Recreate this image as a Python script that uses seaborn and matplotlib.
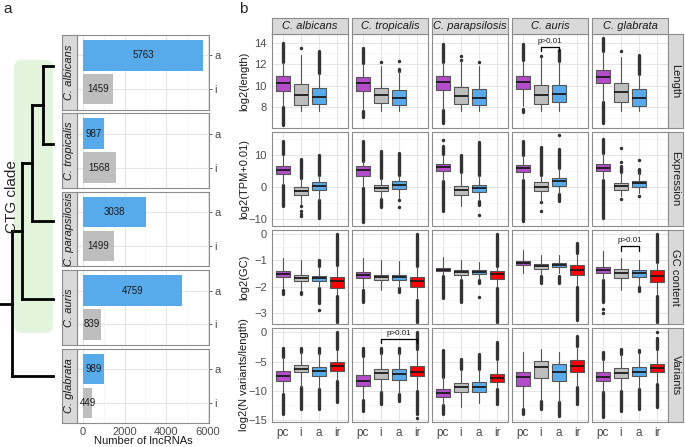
import numpy as np
import pandas as pd
import matplotlib
matplotlib.use("Agg")
import matplotlib.pyplot as plt
from matplotlib.patches import FancyBboxPatch
import seaborn as sns

W, H = 685, 447

# ---- data -------------------------------------------------------------
species = ["C. albicans", "C. tropicalis", "C. parapsilosis", "C. auris", "C. glabrata"]
n_antisense = [5763, 987, 3038, 4759, 989]      # "a"
n_intergenic = [1459, 1568, 1499, 839, 449]     # "i"

# tree: ladder tree over the species order, depth at which leaf k+1 joins
node_depth = [4.1, 3.05, 2.05, 1.1]
leaf_depth = 5.0

groups = ["pc", "i", "a", "ir"]
metric_strips = ["Length", "Expression", "GC content", "Variants"]
metric_ylabels = ["log2(length)", "log2(TPM+0.01)", "log2(GC)", "log2(N variants/length)"]
metric_ylims = [(6.1, 14.8), (-12.2, 17.2), (-3.44, 0.17), (-15.35, 0.74)]
metric_yticks = [[8, 10, 12, 14], [-10, 0, 10], [-3, -2, -1, 0], [-15, -10, -5, 0]]

# box stats per species -> per group: (whislo, q1, median, q3, whishi)
length_box = [
    [(8.1, 9.55, 10.3, 10.9, 12.1), (7.64, 8.23, 9.16, 10.2, 12.9), (7.64, 8.31, 8.98, 9.84, 11.1)],
    [(7.85, 9.55, 10.22, 10.86, 12.0), (7.64, 8.43, 9.13, 9.83, 11.8), (7.64, 8.21, 8.91, 9.58, 11.35)],
    [(7.9, 9.64, 10.34, 10.89, 12.1), (7.64, 8.30, 9.1, 9.92, 12.3), (7.64, 8.21, 8.88, 9.74, 11.8)],
    [(8.15, 9.67, 10.34, 10.92, 12.3), (7.64, 8.36, 9.16, 10.04, 12.6), (7.64, 8.55, 9.25, 10.07, 12.2)],
    [(8.6, 10.28, 10.86, 11.44, 13.1), (7.64, 8.55, 9.43, 10.28, 12.7), (7.64, 8.18, 8.85, 9.74, 11.0)],
]
# outliers: single value = one point, (lo, hi) = dense run of points
length_fliers = [
    [[(12.2, 13.95), (6.35, 8.0)], [13.5], [(11.2, 13.25)]],
    [[(12.1, 13.5), (7.1, 7.7)], [12.2], [12.26, (11.4, 11.6)]],
    [[(12.2, 13.9), (6.6, 7.8)], [12.8, 12.4], [12.2]],
    [[(12.4, 13.9), (7.6, 7.85)], [12.8], [(12.3, 13.3)]],
    [[(13.2, 14.4), (6.6, 8.5)], [13.2], [(11.1, 12.87)]],
]
expr_box = [
    [(0.9, 4.17, 5.42, 6.67, 10.0), (-5.3, -2.6, -1.35, -0.1, 2.5), (-4.0, -0.94, 0.2, 1.46, 3.4)],
    [(0.0, 3.54, 5.2, 6.46, 8.0), (-3.7, -1.25, -0.2, 0.73, 2.5), (-3.5, -0.52, 0.63, 1.77, 3.5)],
    [(2.0, 5.0, 6.15, 7.19, 10.0), (-5.8, -2.4, -0.94, 0.42, 4.5), (-4.2, -1.56, -0.42, 0.73, 3.5)],
    [(2.4, 4.8, 5.94, 6.98, 9.8), (-4.3, -1.15, 0.0, 1.46, 3.5), (-2.0, 0.42, 1.77, 2.7, 5.6)],
    [(2.4, 4.9, 6.04, 7.19, 10.3), (-2.8, -0.83, 0.2, 1.25, 4.4), (-1.8, 0.1, 1.15, 1.98, 4.3)],
]
expr_fliers = [
    [[(10.3, 14.5), (-6.0, 0.7)], [(2.7, 8.8), -5.9, -7.4, -8.3, -9.2], [(3.6, 10.0), (-9.8, -4.2)]],
    [[(8.2, 14.5), (-11.0, -0.3)], [(2.7, 11.35), (-6.35, -3.9)], [(3.7, 10.6), -4.0, -6.35]],
    [[(10.3, 12.9), 14.8, (-7.4, 1.8)], [(4.7, 10.0)], [(3.7, 14.0), (-5.5, -4.3), -8.75]],
    [[(9.9, 14.5), (-10.5, 2.3)], [(3.7, 12.4), -4.6, -7.6], [(5.8, 12.0), 16.2, (-4.3, -2.2)]],
    [[(10.5, 15.0), (-9.8, 2.3)], [12.1, 7.9, (4.6, 6.5), -3.75], [8.4, (4.5, 5.5), -2.7]],
]
gc_box = [
    [(-2.06, -1.65, -1.53, -1.42, -0.91), (-2.13, -1.77, -1.67, -1.56, -0.97),
     (-2.0, -1.79, -1.69, -1.59, -1.26), (-2.3, -2.05, -1.79, -1.64, -1.2)],
    [(-2.06, -1.68, -1.54, -1.44, -0.91), (-2.13, -1.74, -1.64, -1.55, -0.97),
     (-2.0, -1.76, -1.65, -1.55, -1.03), (-2.45, -2.0, -1.78, -1.64, -1.25)],
    [(-1.55, -1.41, -1.35, -1.28, -0.87), (-1.7, -1.54, -1.45, -1.37, -1.0),
     (-1.7, -1.53, -1.44, -1.37, -1.05), (-2.0, -1.72, -1.53, -1.41, -1.25)],
    [(-1.49, -1.18, -1.10, -1.03, -0.59), (-1.55, -1.32, -1.23, -1.14, -0.78),
     (-1.5, -1.27, -1.19, -1.10, -0.78), (-1.95, -1.55, -1.36, -1.19, -0.75)],
    [(-1.7, -1.47, -1.36, -1.26, -0.65), (-2.13, -1.68, -1.5, -1.32, -0.91),
     (-1.98, -1.64, -1.49, -1.36, -0.97), (-2.3, -1.81, -1.58, -1.37, -1.1)],
]
gc_fliers = [
    [[(-2.28, -2.13)], [(-2.28, -2.2)], [(-1.23, -0.97), (-2.64, -2.06), -2.9], [(-1.17, 0.0), (-3.35, -2.35)]],
    [[(-2.58, -2.13)], [], [(-2.2, -2.06)], [(-1.23, 0.0), (-3.35, -2.5)]],
    [[(-2.45, -1.6)], [(-2.58, -1.74)], [(-1.87, -1.74), -2.41], [(-1.23, 0.0), (-3.35, -2.05)]],
    [[], [(-1.87, -1.6)], [(-1.87, -1.6)], [(-0.72, -0.33), (-3.28, -2.0)]],
    [[(-2.6, -1.74), -2.85, -3.0], [], [(-2.19, -2.03)], [(-1.04, 0.0), (-3.35, -2.35)]],
]
var_box = [
    [(-10.4, -8.26, -7.4, -6.66, -4.3), (-9.3, -6.83, -6.26, -5.57, -3.4),
     (-9.6, -7.4, -6.54, -5.97, -3.6), (-8.1, -6.54, -5.8, -5.11, -3.0)],
    [(-11.4, -9.11, -8.26, -7.29, -4.2), (-10.2, -7.97, -7.0, -6.26, -3.6),
     (-10.4, -8.09, -7.17, -6.26, -3.6), (-9.9, -7.51, -6.71, -5.8, -3.0)],
    [(-12.4, -11.11, -10.37, -9.69, -7.7), (-12.8, -10.14, -9.4, -8.71, -6.4),
     (-12.1, -10.26, -9.29, -8.54, -6.4), (-9.6, -8.54, -7.86, -7.11, -4.8)],
    [(-12.9, -9.23, -7.69, -6.71, -3.4), (-11.5, -7.86, -5.97, -4.83, -2.9),
     (-11.9, -8.26, -6.71, -5.4, -3.4), (-9.3, -6.71, -5.69, -4.71, -2.5)],
    [(-10.2, -8.37, -7.57, -6.83, -4.6), (-9.9, -7.86, -6.94, -6.14, -3.8),
     (-9.6, -7.51, -6.71, -5.97, -3.5), (-8.7, -6.83, -6.09, -5.4, -3.0)],
]
var_fliers = [
    [[(-4.2, -2.6), (-14.0, -10.5)], [(-3.3, -2.6), (-13.1, -9.4)], [(-3.5, -2.6), (-13.1, -9.7)], [(-2.9, 0.0), (-12.0, -8.26)]],
    [[(-4.1, -2.6), (-13.4, -11.6)], [(-3.5, -2.6), (-12.3, -10.3)], [(-3.5, -2.6), (-11.7, -10.5)], [(-2.9, 0.0), (-14.0, -10.0), -14.7]],
    [[(-7.6, -3.1), (-14.0, -12.5)], [(-6.3, -4.5)], [(-6.26, -3.7)], [(-4.6, -1.7), (-12.3, -9.7)]],
    [[(-14.0, -13.1)], [(-13.1, -11.7)], [(-14.3, -12.0)], [(-2.3, -0.6), (-12.3, -9.4)]],
    [[(-4.5, -3.3), (-14.5, -10.3)], [(-3.7, -2.9), (-13.4, -10.0)], [(-3.4, -3.1), (-13.1, -9.7)], [0.1, (-2.9, -0.9), (-12.8, -8.8)]],
]
metric_boxes = [length_box, expr_box, gc_box, var_box]
metric_fliers = [length_fliers, expr_fliers, gc_fliers, var_fliers]

# significance brackets: (row, col, group from, group to, line y, tick end y)
brackets = [
    (0, 3, 2, 3, 13.62, 13.2),
    (2, 4, 2, 3, -0.44, -0.64),
    (3, 1, 2, 4, -1.14, -1.84),
]

group_colors = {"pc": "#b44ccc", "i": "#bebebe", "a": "#58abeb", "ir": "#ff0000"}
grid_major = "#e6e6e6"
grid_minor = "#f3f3f3"
border = "#8c8c8c"
strip_fill = "#d9d9d9"
tick_col = "#4d4d4d"

sns.set_theme(style="white")
plt.rcParams["font.family"] = ["Liberation Sans", "DejaVu Sans"]

fig = plt.figure(figsize=(W / 100, H / 100), dpi=100)


def px_axes(x0, y0, x1, y1, **kw):
    return fig.add_axes([x0 / W, 1 - y1 / H, (x1 - x0) / W, (y1 - y0) / H], **kw)


def style_panel(ax):
    for s in ax.spines.values():
        s.set_color(border)
        s.set_linewidth(0.8)
        s.set_visible(True)
    ax.set_axisbelow(True)
    ax.tick_params(colors=tick_col, labelcolor=tick_col, labelsize=8, length=2.5, width=0.6, pad=1.2)


def strip(x0, y0, x1, y1, label, rotation=0, style="normal"):
    s = px_axes(x0, y0, x1, y1)
    s.set_facecolor(strip_fill)
    s.set_xticks([])
    s.set_yticks([])
    for sp in s.spines.values():
        sp.set_color(border)
        sp.set_linewidth(0.8)
    s.text(0.5, 0.5, label, transform=s.transAxes, ha="center", va="center",
           rotation=rotation, fontsize=8, style=style, color="#1a1a1a")


# ---- panel a : tree ----------------------------------------------------
tree_top, tree_pitch = 66, 77.6
tax = px_axes(0, 0, 60, H)
tax.set_xlim(0, 60 / 10.6)
tax.set_ylim((H - tree_top) / tree_pitch, -tree_top / tree_pitch)
tax.axis("off")

clade = FancyBboxPatch((1.32, -0.08), leaf_depth - 1.32, 3.52,
                       boxstyle="round,pad=0,rounding_size=0.8", mutation_aspect=0.137,
                       facecolor="#e2f4dc", edgecolor="none", zorder=0)
tax.add_patch(clade)

kw = dict(color="black", lw=2.0, solid_capstyle="projecting")
cur_x, cur_y = leaf_depth, 0.0
for k, d in enumerate(node_depth):
    child = k + 1
    tax.plot([d, cur_x], [cur_y, cur_y], **kw)
    tax.plot([d, leaf_depth], [child, child], **kw)
    tax.plot([d, d], [cur_y, child], **kw)
    cur_x, cur_y = d, (cur_y + child) / 2
tax.plot([0, cur_x], [cur_y, cur_y], **kw)

fig.text(12 / W, 1 - 197 / H, "CTG clade", rotation=90, ha="center", va="center", fontsize=11)

# ---- panel a : bars ----------------------------------------------------
bar_top, bar_pitch, bar_h = 35, 78.4, 74.5
for i, sp in enumerate(species):
    y0 = bar_top + i * bar_pitch
    ax = px_axes(77, y0, 209, y0 + bar_h)
    df = pd.DataFrame({"type": ["a", "i"], "n": [n_antisense[i], n_intergenic[i]]})
    sns.barplot(data=df, x="n", y="type", hue="type", order=["a", "i"],
                palette={"a": group_colors["a"], "i": group_colors["i"]},
                width=0.9, saturation=1, legend=False, ax=ax, edgecolor="none")
    for j, v in enumerate(df["n"]):
        ax.text(v / 2, j, str(v), ha="center", va="center", fontsize=7, color="#1a1a1a")
    ax.set_xlim(-290, 6050)
    ax.set_ylim(1.6, -0.6)
    ax.set_xticks([0, 2000, 4000, 6000])
    ax.set_xticks([1000, 3000, 5000], minor=True)
    ax.grid(True, which="major", color=grid_major, lw=0.8)
    ax.grid(True, which="minor", axis="x", color=grid_minor, lw=0.5)
    ax.yaxis.tick_right()
    ax.set_xlabel("")
    ax.set_ylabel("")
    style_panel(ax)
    ax.tick_params(axis="x", which="minor", length=0)
    ax.tick_params(axis="x", length=2, pad=0.6)
    if i < len(species) - 1:
        ax.tick_params(axis="x", bottom=False, labelbottom=False)
    strip(62, y0, 77, y0 + bar_h, sp, rotation=90, style="italic")

fig.text(143 / W, 1 - 441 / H, "Number of lncRNAs", ha="center", va="center",
         fontsize=8, color="#1a1a1a")

# ---- panel b : boxplots ------------------------------------------------
col_x0, col_pitch, col_w = 272, 80, 76
row_y0, row_pitch, row_h = 34, 98, 94
positions = np.arange(1, 5)
for r in range(4):
    ymin, ymax = metric_ylims[r]
    for c, sp in enumerate(species):
        x0 = col_x0 + c * col_pitch
        y0 = row_y0 + r * row_pitch
        ax = px_axes(x0, y0, x0 + col_w, y0 + row_h)
        boxes = metric_boxes[r][c]
        stats = [dict(whislo=b[0], q1=b[1], med=b[2], q3=b[3], whishi=b[4]) for b in boxes]
        bp = ax.bxp(stats, positions=positions[:len(stats)], widths=0.75, patch_artist=True,
                    showfliers=False, showcaps=False,
                    boxprops=dict(edgecolor="#555555", linewidth=0.8),
                    whiskerprops=dict(color="#555555", linewidth=0.8),
                    medianprops=dict(color="#1a1a1a", linewidth=1.3), zorder=3)
        for patch, g in zip(bp["boxes"], groups):
            patch.set_facecolor(group_colors[g])
        for pos, fl in zip(positions, metric_fliers[r][c]):
            for item in fl:
                if isinstance(item, tuple):
                    ax.plot([pos, pos], list(item), color="#333333", lw=2.4,
                            solid_capstyle="round", zorder=2)
                else:
                    ax.plot(pos, item, "o", ms=2.5, color="#333333", mec="none", zorder=2)
        ax.set_xlim(0.4, 4.6)
        ticks = metric_yticks[r]
        step = ticks[1] - ticks[0]
        ax.set_yticks(ticks)
        ax.set_yticks(np.arange(ticks[0] - step / 2, ticks[-1] + step, step), minor=True)
        ax.set_ylim(ymin, ymax)
        ax.set_xticks(positions)
        ax.set_xticklabels(groups)
        ax.grid(True, which="major", color=grid_major, lw=0.8)
        ax.grid(True, which="minor", axis="y", color=grid_minor, lw=0.5)
        style_panel(ax)
        ax.tick_params(which="minor", length=0)
        if c > 0:
            ax.tick_params(axis="y", left=False, labelleft=False)
        if r < 3:
            ax.tick_params(axis="x", bottom=False, labelbottom=False)
        ax.tick_params(axis="x", labelsize=8.5)
        for (br, bc, g1, g2, yl, yt) in brackets:
            if br == r and bc == c:
                ax.plot([g1, g1, g2, g2], [yt, yl, yl, yt], color="black", lw=0.9, zorder=4)
                ax.annotate("p>0.01", ((g1 + g2) / 2, yl), xytext=(0, 1.2),
                            textcoords="offset points", ha="center", va="bottom",
                            fontsize=5.8, color="#1a1a1a")
        if r == 0:
            strip(x0, 18, x0 + col_w, 34, sp, style="italic")
    y0 = row_y0 + r * row_pitch
    strip(668, y0, 683, y0 + row_h, metric_strips[r], rotation=270)
    fig.text(244 / W, 1 - (y0 + row_h / 2) / H, metric_ylabels[r], rotation=90,
             ha="center", va="center", fontsize=8, color="#1a1a1a")

fig.text(8 / W, 1 - 9 / H, "a", fontsize=11, ha="center", va="center")
fig.text(243 / W, 1 - 9 / H, "b", fontsize=11, ha="center", va="center")

fig.savefig("out.png", dpi=100)
